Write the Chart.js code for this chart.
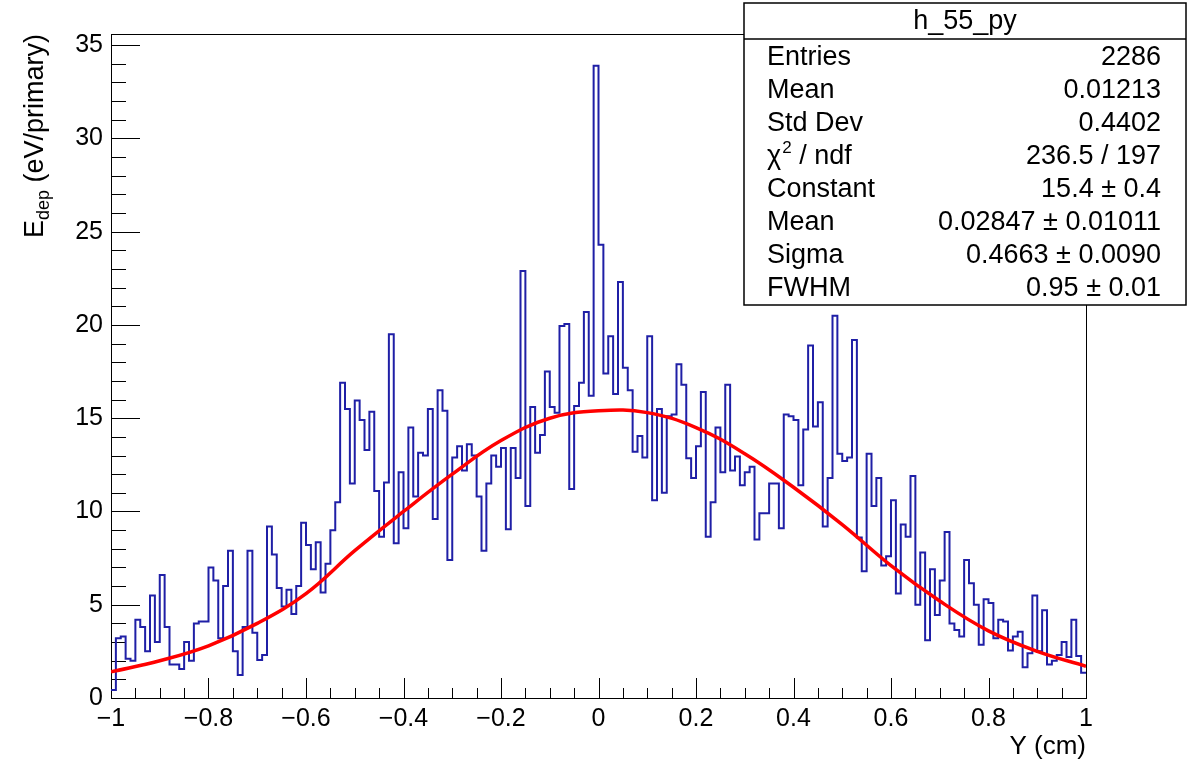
<!DOCTYPE html>
<html>
<head>
<meta charset="utf-8">
<script src="https://cdn.jsdelivr.net/npm/chart.js@4.4.1/dist/chart.umd.min.js"></script>
<style>
    html, body { margin: 0; padding: 0; background: #ffffff; }
    #wrap { width: 1193px; height: 760px; }
</style>
</head>
<body>
<div id="wrap"><canvas id="edepChart" width="1193" height="760"></canvas></div>
<script>
// histogram h_55_py : 200 bins from -1 to 1
const binLow = -1;
const binWidth = 0.01;
const edep = [
    0.43, 3.2, 3.3, 2.1, 2.0, 4.2, 3.8, 2.5, 5.5, 3.0,
    6.6, 3.8, 1.8, 1.8, 1.55, 3.0, 2.0, 4.0, 4.1, 4.1,
    7.0, 6.3, 3.2, 6.0, 7.9, 2.5, 1.23, 3.8, 7.9, 3.5,
    2.04, 2.3, 9.2, 7.7, 5.9, 4.9, 5.8, 4.5, 6.0, 9.4,
    8.2, 6.9, 8.35, 5.65, 7.2, 9.0, 10.5, 16.9, 15.5, 11.5,
    15.95, 14.9, 13.3, 15.35, 11.1, 8.65, 11.55, 19.5, 8.3, 12.1,
    9.1, 14.5, 10.8, 13.15, 13.0, 15.5, 9.6, 16.5, 15.4, 7.4,
    12.9, 13.5, 12.2, 13.6, 13.0, 10.8, 7.9, 11.5, 13.0, 12.4,
    13.4, 9.05, 13.4, 11.8, 22.9, 10.3, 15.6, 13.15, 14.1, 17.5,
    15.6, 15.3, 19.95, 20.05, 11.2, 15.65, 16.9, 20.7, 16.2, 33.9,
    24.3, 17.4, 19.4, 16.3, 22.3, 17.7, 16.5, 13.2, 14.05, 12.9,
    19.4, 10.6, 15.5, 11.0, 15.1, 15.2, 17.9, 16.8, 12.85, 11.8,
    13.5, 16.4, 8.65, 10.5, 14.5, 12.1, 16.8, 12.2, 12.95, 11.4,
    12.1, 12.4, 8.5, 9.9, 9.9, 11.5, 11.5, 9.1, 15.2, 15.1,
    14.9, 11.4, 14.4, 18.9, 14.55, 15.85, 9.2, 11.8, 20.5, 13.1,
    12.7, 12.9, 19.2, 8.6, 6.8, 13.1, 10.3, 11.8, 7.1, 7.6,
    10.6, 5.6, 9.3, 8.65, 11.9, 5.0, 7.8, 3.1, 6.9, 4.45,
    6.3, 8.9, 4.0, 3.65, 3.3, 7.4, 6.15, 5.0, 2.85, 5.3,
    5.1, 3.2, 4.2, 4.1, 2.55, 3.3, 3.55, 1.65, 2.4, 5.5,
    2.5, 4.7, 1.8, 2.0, 2.3, 3.0, 2.2, 4.2, 2.25, 1.35
];

// gaus fit
const fitX = [-1, -0.9, -0.8, -0.7, -0.6, -0.5, -0.4, -0.3, -0.2, -0.1, 0,
    0.1, 0.2, 0.3, 0.4, 0.5, 0.6, 0.7, 0.8, 0.9, 1];
const fitY = [1.4, 2.0, 2.8, 4.0, 5.6, 7.9, 10.0, 12.0, 13.8, 15.0, 15.4,
    15.3, 14.5, 13.1, 11.3, 9.3, 7.1, 5.2, 3.6, 2.5, 1.7];

const xTicks = [-1, -0.8, -0.6, -0.4, -0.2, 0, 0.2, 0.4, 0.6, 0.8, 1];
const yTicks = [0, 5, 10, 15, 20, 25, 30, 35];
const yMax = 35.6;

const statsTitle = 'h_55_py';
const statsNames = ['Entries', 'Mean', 'Std Dev', 'chi2', 'Constant', 'Mean', 'Sigma', 'FWHM'];
const statsValues = ['2286', '0.01213', '0.4402', '236.5 / 197', '15.4 \u00b1 0.4',
    '0.02847 \u00b1 0.01011', '0.4663 \u00b1 0.0090', '0.95 \u00b1 0.01'];

const FONT = '"Liberation Sans", Arial, Helvetica, sans-serif';

let histPoints = edep.map((v, i) => ({x: binLow + i * binWidth, y: v}));
histPoints.push({x: binLow + edep.length * binWidth, y: edep[edep.length - 1]});
let fitPoints = fitX.map((x, i) => ({x: x, y: fitY[i]}));

function fmtTick(v) {
    let s = String(Math.round(v * 10) / 10);
    return s.replace('-', '\u2212');
}

// frame + ROOT style ticks drawn inside the frame
const rootFrame = {
    id: 'rootFrame',
    beforeDatasetsDraw(chart) {
        const ctx = chart.ctx;
        const a = chart.chartArea;
        const xs = chart.scales.x, ys = chart.scales.y;
        ctx.save();
        ctx.strokeStyle = '#000';
        ctx.lineWidth = 1;
        ctx.strokeRect(a.left + 0.5, a.top + 0.5, a.right - a.left, a.bottom - a.top);
        ctx.beginPath();
        for (let k = 0; k <= 40; k++) {
            let px = Math.round(xs.getPixelForValue(-1 + k * 0.05)) + 0.5;
            let len = (k % 4 === 0) ? 20 : 10;
            ctx.moveTo(px, a.bottom);
            ctx.lineTo(px, a.bottom - len);
        }
        for (let k = 0; k <= 35; k++) {
            let py = Math.round(ys.getPixelForValue(k)) + 0.5;
            let len = (k % 5 === 0) ? 29 : 15;
            ctx.moveTo(a.left, py);
            ctx.lineTo(a.left + len, py);
        }
        ctx.stroke();
        ctx.restore();
    },
    afterDraw(chart) {
        const ctx = chart.ctx;
        const a = chart.chartArea;
        ctx.save();
        ctx.fillStyle = '#000';

        // x title
        ctx.font = '26px ' + FONT;
        ctx.textAlign = 'right';
        ctx.textBaseline = 'alphabetic';
        ctx.fillText('Y (cm)', a.right, 754);

        // y title, rotated, aligned to the top of the frame
        ctx.save();
        ctx.translate(43, a.top);
        ctx.rotate(-Math.PI / 2);
        ctx.textAlign = 'left';
        const big = '27px ' + FONT, small = '18px ' + FONT;
        ctx.font = big;
        let wE = ctx.measureText('E').width;
        let wRest = ctx.measureText(' (eV/primary)').width;
        ctx.font = small;
        let wSub = ctx.measureText('dep').width;
        let x0 = -(wE + wSub + wRest);
        ctx.font = big;
        ctx.fillText('E', x0, 0);
        ctx.font = small;
        ctx.fillText('dep', x0 + wE, 6);
        ctx.font = big;
        ctx.fillText(' (eV/primary)', x0 + wE + wSub, 0);
        ctx.restore();

        // stats box
        const bx = 744, by = 3, bw = 442, bh = 302, head = 36;
        ctx.fillStyle = '#fff';
        ctx.fillRect(bx, by, bw, bh);
        ctx.strokeStyle = '#000';
        ctx.lineWidth = 1.5;
        ctx.strokeRect(bx, by, bw, bh);
        ctx.beginPath();
        ctx.moveTo(bx, by + head);
        ctx.lineTo(bx + bw, by + head);
        ctx.stroke();

        ctx.fillStyle = '#000';
        ctx.font = '27px ' + FONT;
        ctx.textBaseline = 'middle';
        ctx.textAlign = 'center';
        ctx.fillText(statsTitle, bx + bw / 2, by + head / 2 + 1);
        const rowH = 33;
        for (let i = 0; i < statsNames.length; i++) {
            let yy = by + head + 19 + i * rowH;
            ctx.textAlign = 'left';
            if (statsNames[i] === 'chi2') {
                ctx.font = '27px ' + FONT;
                ctx.fillText('\u03c7', bx + 23, yy);
                let w = ctx.measureText('\u03c7').width;
                ctx.font = '17px ' + FONT;
                ctx.fillText('2', bx + 23 + w + 1, yy - 9);
                let w2 = ctx.measureText('2').width;
                ctx.font = '27px ' + FONT;
                ctx.fillText(' / ndf', bx + 23 + w + w2 + 1, yy);
            } else {
                ctx.font = '27px ' + FONT;
                ctx.fillText(statsNames[i], bx + 23, yy);
            }
            ctx.textAlign = 'right';
            ctx.fillText(statsValues[i], bx + 417, yy);
        }
        ctx.restore();
    }
};

new Chart(document.getElementById('edepChart'), {
    type: 'line',
    data: {
        datasets: [
            {
                data: histPoints,
                borderColor: '#1f1fa6',
                borderWidth: 2,
                stepped: 'before',
                pointRadius: 0,
                fill: false,
                order: 2
            },
            {
                data: fitPoints,
                borderColor: '#ff0000',
                borderWidth: 3.5,
                tension: 0.4,
                pointRadius: 0,
                fill: false,
                order: 1
            }
        ]
    },
    options: {
        responsive: false,
        animation: false,
        devicePixelRatio: 1,
        layout: {padding: {top: 34, right: 107, left: 0, bottom: 0}},
        plugins: {legend: {display: false}, tooltip: {enabled: false}, title: {display: false}},
        scales: {
            x: {
                type: 'linear',
                min: -1,
                max: 1,
                afterBuildTicks: (s) => { s.ticks = xTicks.map(v => ({value: v})); },
                afterFit: (s) => { s.height = 62; },
                grid: {display: false, drawTicks: false},
                border: {display: false},
                ticks: {
                    autoSkip: false,
                    maxRotation: 0,
                    padding: 6,
                    color: '#000',
                    font: {family: FONT, size: 25},
                    callback: (v) => fmtTick(v)
                }
            },
            y: {
                type: 'linear',
                min: 0,
                max: yMax,
                afterBuildTicks: (s) => { s.ticks = yTicks.map(v => ({value: v})); },
                afterFit: (s) => { s.width = 111; },
                grid: {display: false, drawTicks: false},
                border: {display: false},
                ticks: {
                    autoSkip: false,
                    padding: 8,
                    color: '#000',
                    font: {family: FONT, size: 25},
                    callback: (v) => fmtTick(v)
                }
            }
        }
    },
    plugins: [rootFrame]
});
</script>
</body>
</html>
